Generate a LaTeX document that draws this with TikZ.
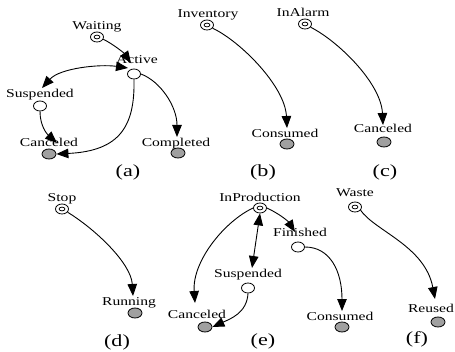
\documentclass[tikz,border=0pt]{standalone}
\usepackage{fontspec}
\setmainfont{Liberation Serif}
\usetikzlibrary{shapes.geometric,arrows.meta,calc}
\definecolor{finalgray}{RGB}{160,160,160}
\newcommand{\hs}[1]{\scalebox{1.3}[1]{#1}}
\tikzset{
  st/.style={ellipse,draw,line width=0.8pt,fill=white,minimum width=13pt,minimum height=10pt,inner sep=0pt},
  initst/.style={st,path picture={\draw[line width=0.8pt] (path picture bounding box.center) ellipse (2.9pt and 1.9pt);}},
  finalst/.style={st,fill=finalgray,minimum width=14pt},
  lbl/.style={anchor=base,inner sep=0pt,font=\fontsize{12}{13}\selectfont},
  subcap/.style={anchor=base,inner sep=0pt,font=\fontsize{17}{18}\selectfont},
  tr/.style={line width=0.9pt,-{Triangle[length=12pt,width=9.5pt]}},
  dtr/.style={line width=0.9pt,{Triangle[length=12pt,width=9.5pt]}-{Triangle[length=12pt,width=9.5pt]}}
}
\begin{document}
\begin{tikzpicture}[x=1pt,y=1pt]
\useasboundingbox (0,0) rectangle (455,351);

% ---- (a) ----
\node[initst]  (waiting)   at (97,314)  {};
\node[st]      (active)    at (134,277) {};
\node[st]      (suspA)     at (40,245)  {};
\node[finalst] (canA)      at (49,197)  {};
\node[finalst] (completed) at (178,198) {};
\node[lbl] (waitingl)   at (97,321)  {\hs{Waiting}};
\node[lbl] (activel)    at (137,287) {\hs{Active}};
\node[lbl] (suspAl)     at (40,253)  {\hs{Suspended}};
\node[lbl] (canAl)      at (49,204)  {\hs{Canceled}};
\node[lbl] (completedl) at (176,204) {\hs{Completed}};
\node[subcap] (capa) at (128,174) {\hs{(a)}};

\draw[tr] (waiting.-20) .. controls (113,307) and (124,298) .. ($(active)+(-3,11)$);
\draw[dtr] ($(active)+(-6,6)$) .. controls (100,287) and (60,283) .. ($(suspA)+(2,18)$);
\draw[tr] (suspA.south) .. controls (40,225) and (47,217) .. ($(canA)+(8,11)$);
\draw[tr] (active.south) .. controls (135,225) and (120,200) .. (canA.east);
\draw[tr] (active.east) .. controls (160,270) and (177,245) .. ($(completed)+(-1,16)$);

% ---- (b) ----
\node[initst]  (inventory) at (207,326) {};
\node[finalst] (consB)     at (287,207) {};
\node[lbl] (inventoryl) at (208,333) {\hs{Inventory}};
\node[lbl] (consBl)     at (285,213) {\hs{Consumed}};
\node[subcap] (capb) at (263,174) {\hs{(b)}};
\draw[tr] (inventory.-30) .. controls (240,310) and (285,265) .. ($(consB)+(0,16)$);

% ---- (c) ----
\node[initst]  (inalarm) at (305,327) {};
\node[finalst] (canC)    at (384,209) {};
\node[lbl] (inalarml) at (303,334) {\hs{InAlarm}};
\node[lbl] (canCl)    at (383,218) {\hs{Canceled}};
\node[subcap] (capc) at (385,174) {\hs{(c)}};
\draw[tr] (inalarm.-30) .. controls (338,310) and (381,268) .. ($(canC)+(-1,17)$);

% ---- (d) ----
\node[initst]  (stop)    at (62,142) {};
\node[finalst] (running) at (135,38) {};
\node[lbl] (stopl)    at (62,149)  {\hs{Stop}};
\node[lbl] (runningl) at (129,46)  {\hs{Running}};
\node[subcap] (capd) at (117,5) {\hs{(d)}};
\draw[tr] (stop.-30) .. controls (95,122) and (131,88) .. ($(running)+(-2,17)$);

% ---- (e) ----
\node[initst]  (inprod)   at (260,143) {};
\node[st]      (finished) at (298,104) {};
\node[st]      (suspE)    at (248,63)  {};
\node[finalst] (canE)     at (205,24)  {};
\node[finalst] (consE)    at (342,24)  {};
\node[lbl] (inprodl)   at (260,149) {\hs{InProduction}};
\node[lbl] (finishedl) at (300,114) {\hs{Finished}};
\node[lbl] (suspEl)    at (248,74)  {\hs{Suspended}};
\node[lbl] (canEl)     at (197,33)  {\hs{Canceled}};
\node[lbl] (consEl)    at (340,31)  {\hs{Consumed}};
\node[subcap] (cape) at (263,6) {\hs{(e)}};
\draw[dtr] (inprod.south) -- ($(suspE)+(4,20)$);
\draw[tr] (inprod.west) .. controls (225,130) and (192,90) .. ($(canE)+(-10,24)$);
\draw[tr] (suspE.south) .. controls (247,38) and (230,32) .. (canE.east);
\draw[tr] (inprod.east) .. controls (278,138) and (288,130) .. ($(finished)+(-3,15)$);
\draw[tr] (finished.east) .. controls (330,104) and (342,80) .. ($(consE)+(0,16)$);

% ---- (f) ----
\node[initst]  (waste)  at (355,144) {};
\node[finalst] (reused) at (438,29)  {};
\node[lbl] (wastel)  at (355,154) {\hs{Waste}};
\node[lbl] (reusedl) at (431,39)  {\hs{Reused}};
\node[subcap] (capf) at (417,8) {\hs{(f)}};
\draw[tr] (waste.-30) .. controls (375,120) and (425,105) .. ($(reused)+(-3,23)$);
\end{tikzpicture}
\end{document}
